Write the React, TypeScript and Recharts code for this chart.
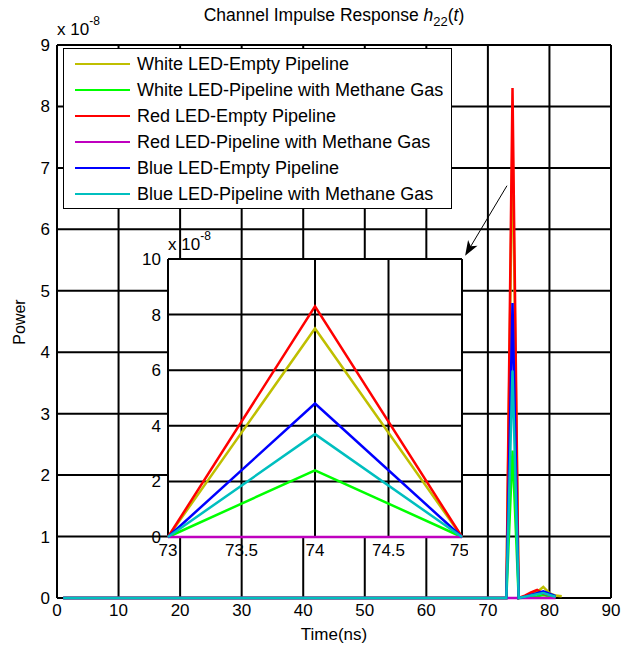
import { LineChart, Line, XAxis, YAxis, CartesianGrid, ReferenceLine } from "recharts"

const FONT = "'Liberation Sans', Arial, Helvetica, sans-serif"

// sample times (ns): flat zero up to 73, main arrival at 74, small scattered tail after
const timeNs = [1, 73, 74, 75, 76, 77, 78, 79, 80, 81, 82]

// received power, in units of 1e-8
const whiteEmpty = [0, 0, 7.5, 0, 0.02, 0.05, 0.1, 0.18, 0.08, 0.04, 0.03]
const whiteMethane = [0, 0, 2.4, 0, 0.01, 0.02, 0.03, 0.05, 0.03, 0.01, null]
const redEmpty = [0, 0, 8.3, 0, 0.04, 0.09, 0.13, 0.07, 0.05, 0.02, null]
const redMethane = [0, 0, 0, 0, 0, 0, 0, 0, 0, 0, null]
const blueEmpty = [0, 0, 4.8, 0, 0.02, 0.05, 0.08, 0.11, 0.07, 0.03, null]
const blueMethane = [0, 0, 3.7, 0, 0.02, 0.04, 0.06, 0.08, 0.05, 0.02, null]

const xTicks = [0, 10, 20, 30, 40, 50, 60, 70, 80, 90]
const yTicks = [0, 1, 2, 3, 4, 5, 6, 7, 8, 9]
const insetXTicks = [73, 73.5, 74, 74.5, 75]
const insetYTicks = [0, 2, 4, 6, 8, 10]

const series = [
  { key: "whiteEmpty", name: "White LED-Empty Pipeline", color: "#bfbf00", values: whiteEmpty },
  { key: "whiteMethane", name: "White LED-Pipeline with Methane Gas", color: "#00ff00", values: whiteMethane },
  { key: "redEmpty", name: "Red LED-Empty Pipeline", color: "#ff0000", values: redEmpty },
  { key: "redMethane", name: "Red LED-Pipeline with Methane Gas", color: "#bf00bf", values: redMethane },
  { key: "blueEmpty", name: "Blue LED-Empty Pipeline", color: "#0000ff", values: blueEmpty },
  { key: "blueMethane", name: "Blue LED-Pipeline with Methane Gas", color: "#00bfbf", values: blueMethane },
]

const rows = timeNs.map((t, i) => {
  const row: Record<string, number | null> = { t }
  series.forEach((s) => {
    row[s.key] = s.values[i]
  })
  return row
})

// zoomed window around the main arrival
const insetRows = rows.filter((r) => (r.t as number) >= 73 && (r.t as number) <= 75)

const tickStyle = { fill: "#000", fontSize: 17, fontFamily: FONT }

// arrow from the spike down to the zoom box, with a notched head at the end
function Arrow(props: any) {
  const { x1, y1, x2, y2 } = props
  const len = Math.hypot(x1 - x2, y1 - y2)
  const ux = (x1 - x2) / len
  const uy = (y1 - y2) / len
  const px = -uy
  const py = ux
  const bx = x2 + ux * 15
  const by = y2 + uy * 15
  const head = [
    [x2, y2],
    [bx + px * 5.5, by + py * 5.5],
    [x2 + ux * 11, y2 + uy * 11],
    [bx - px * 5.5, by - py * 5.5],
  ]
  return (
    <g>
      <line x1={x1} y1={y1} x2={x2 + ux * 10} y2={y2 + uy * 10} stroke="#000" strokeWidth={1} />
      <polygon points={head.map((p) => p.join(",")).join(" ")} fill="#000" />
    </g>
  )
}

export default function App() {
  return (
    <div style={{ position: "absolute", left: 0, top: 0, width: 621, height: 648, background: "#fff", fontFamily: FONT }}>
      <LineChart width={621} height={648} data={rows} margin={{ top: 45, right: 10, left: 0, bottom: 0 }}>
        {/* grid doubles as the plot box, so the series sit on top of it */}
        <CartesianGrid stroke="#000" strokeWidth={2} horizontalValues={yTicks} verticalValues={xTicks} />
        <XAxis
          dataKey="t"
          type="number"
          domain={[0, 90]}
          ticks={xTicks}
          height={50}
          axisLine={false}
          tickLine={false}
          tickSize={0}
          tickMargin={6}
          tick={tickStyle}
        />
        <YAxis
          type="number"
          domain={[0, 9]}
          ticks={yTicks}
          width={57}
          axisLine={false}
          tickLine={false}
          tickSize={0}
          tickMargin={7}
          tick={tickStyle}
        />
        {series.map((s) => (
          <Line
            key={s.key}
            dataKey={s.key}
            name={s.name}
            type="linear"
            stroke={s.color}
            strokeWidth={2.5}
            dot={false}
            isAnimationActive={false}
          />
        ))}
        <ReferenceLine
          segment={[
            { x: 73.1, y: 6.71 },
            { x: 66.3, y: 5.57 },
          ]}
          ifOverflow="visible"
          shape={Arrow}
        />
      </LineChart>

      <div
        style={{
          position: "absolute",
          left: 63,
          top: 48,
          width: 389,
          height: 161,
          boxSizing: "border-box",
          border: "1.5px solid #000",
          background: "#fff",
          paddingTop: 2,
        }}
      >
        {series.map((s) => (
          <div key={s.key} style={{ display: "flex", alignItems: "center", height: 26 }}>
            <div style={{ marginLeft: 11, width: 55, height: 2.5, background: s.color }} />
            <span style={{ marginLeft: 7, fontSize: 18, color: "#000", whiteSpace: "nowrap" }}>{s.name}</span>
          </div>
        ))}
      </div>

      <div style={{ position: "absolute", left: 128, top: 240 }}>
        <LineChart width={340} height={327} data={insetRows} margin={{ top: 19, right: 6, left: 0, bottom: 0 }}>
          <CartesianGrid
            stroke="#000"
            strokeWidth={2}
            fill="#fff"
            fillOpacity={1}
            horizontalValues={insetYTicks}
            verticalValues={insetXTicks}
          />
          <XAxis
            dataKey="t"
            type="number"
            domain={[73, 75]}
            ticks={insetXTicks}
            height={30}
            axisLine={false}
            tickLine={false}
            tickSize={0}
            tickMargin={7}
            tick={tickStyle}
          />
          <YAxis
            type="number"
            domain={[0, 10]}
            ticks={insetYTicks}
            width={40}
            axisLine={false}
            tickLine={false}
            tickSize={0}
            tickMargin={7}
            tick={tickStyle}
          />
          {series.map((s) => (
            <Line
              key={s.key}
              dataKey={s.key}
              name={s.name}
              type="linear"
              stroke={s.color}
              strokeWidth={2.5}
              dot={false}
              isAnimationActive={false}
            />
          ))}
        </LineChart>
      </div>

      <svg width={621} height={648} style={{ position: "absolute", left: 0, top: 0, pointerEvents: "none" }}>
        <g fontFamily={FONT} fill="#000">
          <text x={334} y={21} fontSize={17.5} textAnchor="middle">
            Channel Impulse Response <tspan fontStyle="italic">h</tspan>
            <tspan fontSize={13} dy={5}>22</tspan>
            <tspan dy={-5}>(</tspan>
            <tspan fontStyle="italic">t</tspan>)
          </text>
          <text x={57} y={35} fontSize={17}>
            x 10<tspan fontSize={12} dy={-10}>-8</tspan>
          </text>
          <text x={168} y={250} fontSize={17}>
            x 10<tspan fontSize={12} dy={-10}>-8</tspan>
          </text>
          <text x={334} y={640} fontSize={17} textAnchor="middle">
            Time(ns)
          </text>
          <text x={0} y={0} fontSize={16} textAnchor="middle" transform="translate(25 322) rotate(-90)">
            Power
          </text>
        </g>
      </svg>
    </div>
  )
}
